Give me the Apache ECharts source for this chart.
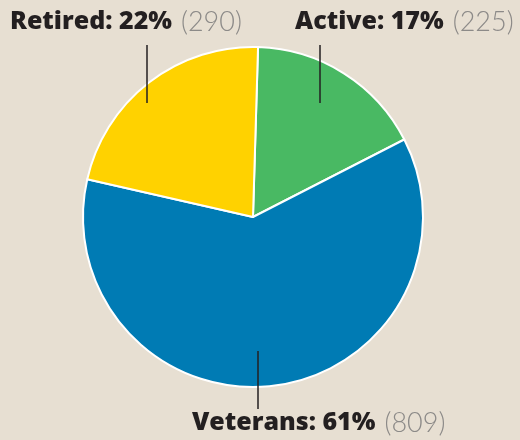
<!DOCTYPE html>
<html>
<head>
<meta charset="utf-8">
<script src="https://cdn.jsdelivr.net/npm/echarts@6/dist/echarts.min.js"></script>
<style>
  html, body { margin: 0; padding: 0; background: #e7dfd2; }
  #main { width: 520px; height: 440px; }
</style>
</head>
<body>
<div id="main"></div>
<script>
// data
const categories = ['Active', 'Veterans', 'Retired'];
const counts = [225, 809, 290];

// slice colours and where each label sits (x/y of text, x and y-range of the pointer line)
const sliceColors = ['#49b963', '#007bb4', '#ffd200'];
const labelSpots = [
    { x: 295, y: 22, lineX: 320, lineTop: 45, lineBottom: 103 },
    { x: 192, y: 423, lineX: 258, lineTop: 351, lineBottom: 409 },
    { x: 10, y: 22, lineX: 147, lineTop: 45, lineBottom: 103 }
];

const pieBase = {
    type: 'pie',
    center: [253, 217],
    radius: [0, 170],
    startAngle: 88.3,
    clockwise: true,
    avoidLabelOverlap: false,
    emphasis: { disabled: true },
    silent: true
};

const chart = echarts.init(document.getElementById('main'));

chart.setOption({
    backgroundColor: '#e7dfd2',
    animation: false,
    series: [
        // coloured slices
        Object.assign({}, pieBase, {
            z: 2,
            itemStyle: { borderColor: '#ffffff', borderWidth: 2 },
            label: { show: false },
            labelLine: { show: false },
            data: categories.map(function (name, i) {
                return { name: name, value: counts[i], itemStyle: { color: sliceColors[i] } };
            })
        }),
        // same data again, transparent, carrying the labels so their lines sit on top
        Object.assign({}, pieBase, {
            z: 3,
            itemStyle: { color: 'rgba(0,0,0,0)', borderWidth: 0 },
            label: {
                show: true,
                position: 'outside',
                formatter: function (p) {
                    return '{b|' + p.name + ': ' + Math.round(p.percent) + '%}{n|(' + p.value + ')}';
                },
                rich: {
                    b: { fontFamily: 'Open Sans', fontWeight: 800, fontSize: 25, color: '#231f20' },
                    n: { fontFamily: 'Lato', fontWeight: 300, fontSize: 27, color: '#8c8a88', padding: [0, 0, 0, 9] }
                }
            },
            labelLine: {
                show: true,
                lineStyle: { color: '#231f20', width: 1.5 }
            },
            labelLayout: function (params) {
                const s = labelSpots[params.dataIndex];
                return {
                    x: s.x,
                    y: s.y,
                    align: 'left',
                    verticalAlign: 'middle',
                    labelLinePoints: [
                        [s.lineX, s.lineBottom],
                        [s.lineX, (s.lineTop + s.lineBottom) / 2],
                        [s.lineX, s.lineTop]
                    ]
                };
            },
            data: categories.map(function (name, i) {
                return { name: name, value: counts[i] };
            })
        })
    ]
});
</script>
</body>
</html>
